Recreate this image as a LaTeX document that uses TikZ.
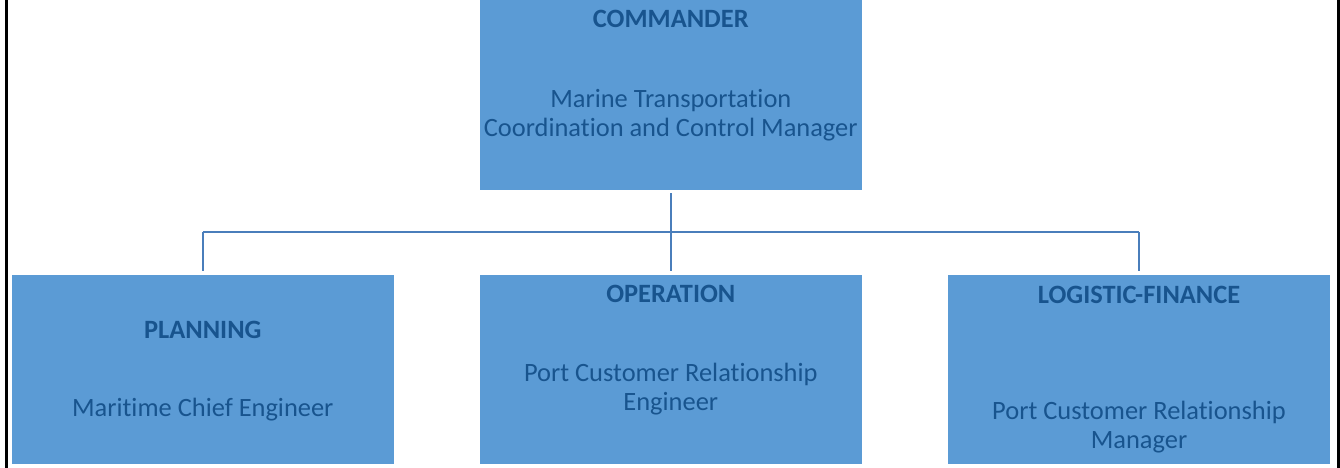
\documentclass[tikz,border=0pt]{standalone}
\usepackage{fontspec}
\setmainfont[Ligatures=NoCommon]{Carlito}
\usetikzlibrary{positioning,calc}
\usepackage{xcolor}
\definecolor{orgblue}{RGB}{91,155,213}
\definecolor{orgtext}{RGB}{24,84,142}
\definecolor{orgline}{RGB}{74,126,187}
\tikzset{
    unit/.style={rectangle, fill=orgblue, draw=white, line width=0.6pt, minimum width=9.59cm, minimum height=4.75cm, inner sep=0pt},
    title/.style={anchor=base, text=orgtext, font=\bfseries\fontsize{18.8}{21}\selectfont},
    role/.style={anchor=base, text=orgtext, align=center, font=\fontsize{18.8}{21}\selectfont},
    link/.style={line width=1.5pt, color=orgline},
    frame/.style={line width=2.1pt, color=black}
}
\begin{document}
\begin{tikzpicture}
    \useasboundingbox (0,0) rectangle (33.5,11.7);
    % side rules
    \draw[frame] (0.1625,0) -- (0.1625,11.7);
    \draw[frame] (33.47,0) -- (33.47,11.7);
    % boxes
    \node[unit, minimum height=4.85cm] (cmd) at (16.77,9.375) {};
    \node[unit] (plan) at (5.07,2.475) {};
    \node[unit] (oper) at (16.77,2.475) {};
    \node[unit] (logi) at (28.475,2.475) {};
    % texts
    \node[title] (cmdT) at (cmd.center |- 0,11.0) {COMMANDER};
    \node[role] (cmdR) at (cmd.center |- 0,8.28) {Marine Transportation\\Coordination and Control Manager};
    \node[title] (planT) at (plan.center |- 0,3.24) {PLANNING};
    \node[role] (planR) at (plan.center |- 0,1.28) {Maritime Chief Engineer};
    \node[title] (operT) at (oper.center |- 0,4.14) {OPERATION};
    \node[role] (operR) at (oper.center |- 0,1.43) {Port Customer Relationship\\Engineer};
    \node[title] (logiT) at (logi.center |- 0,4.12) {LOGISTIC-FINANCE};
    \node[role] (logiR) at (logi.center |- 0,0.475) {Port Customer Relationship\\Manager};
    % connectors
    \coordinate (bus) at (0,5.9);
    \draw[link, shorten <=2pt] (cmd.south) -- (cmd.south |- bus);
    \draw[link] (plan.north |- bus) -- (logi.north |- bus);
    \foreach \sub in {plan,oper,logi}
        \draw[link, shorten >=2pt] (\sub.north |- bus) -- (\sub.north);
\end{tikzpicture}
\end{document}
